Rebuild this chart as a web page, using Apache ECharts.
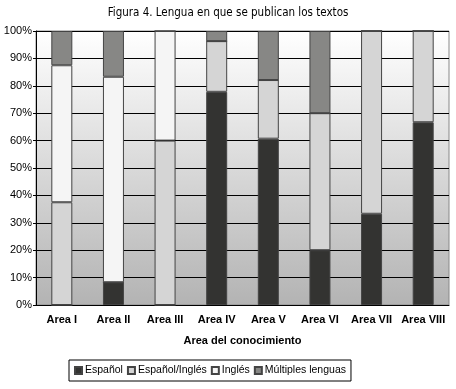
<!DOCTYPE html>
<html>
<head>
<meta charset="utf-8">
<script src="https://cdn.jsdelivr.net/npm/echarts@6/dist/echarts.min.js"></script>
<style>
  html, body { margin: 0; padding: 0; background: #fff; }
  #chart { width: 456px; height: 389px; }
</style>
</head>
<body>
<div id="chart"></div>
<script>
var areas = ['Area I', 'Area II', 'Area III', 'Area IV', 'Area V', 'Area VI', 'Area VII', 'Area VIII'];
var espanol = [0, 8.3, 0, 77.8, 60.7, 20, 33.3, 66.7];
var espIngles = [37.5, 0, 60, 18.5, 21.4, 50, 66.7, 33.3];
var ingles = [50, 75, 40, 0, 0, 0, 0, 0];
var multiples = [12.5, 16.7, 0, 3.7, 17.9, 30, 0, 0];

var myChart = echarts.init(document.getElementById('chart'));

function bar(name, data, color) {
    return {
        name: name,
        type: 'bar',
        stack: 'total',
        barWidth: 21,
        data: data,
        itemStyle: { color: color, borderColor: '#444', borderWidth: 1 }
    };
}

var option = {
    backgroundColor: '#fff',
    animation: false,
    textStyle: { fontFamily: 'Liberation Sans, Arial, sans-serif' },
    title: {
        text: 'Figura 4. Lengua en que se publican los textos',
        left: 'center',
        top: 2,
        textStyle: {
            fontFamily: 'DejaVu Sans Condensed, sans-serif',
            fontSize: 11.5,
            fontWeight: 'normal',
            color: '#000'
        }
    },
    grid: {
        left: 36, right: 7, top: 31, bottom: 84,
        show: true,
        borderColor: '#888',
        borderWidth: 1,
        backgroundColor: new echarts.graphic.LinearGradient(0, 0, 0, 1, [
            { offset: 0, color: '#ffffff' },
            { offset: 1, color: '#b3b3b3' }
        ])
    },
    legend: {
        left: 69,
        top: 360,
        itemWidth: 7,
        itemHeight: 7,
        itemGap: 4,
        icon: 'rect',
        padding: [5, 5],
        borderColor: '#000',
        borderWidth: 1,
        backgroundColor: '#fff',
        textStyle: { fontSize: 10.5, color: '#000', padding: [0, 0, 0, -2] }
    },
    xAxis: {
        type: 'category',
        data: areas,
        name: 'Area del conocimiento',
        nameLocation: 'middle',
        nameGap: 30,
        nameTextStyle: { fontSize: 11, fontWeight: 'bold', color: '#000' },
        axisLine: { lineStyle: { color: '#000' } },
        axisTick: { length: 3, lineStyle: { color: '#000' } },
        axisLabel: { fontSize: 11, fontWeight: 'bold', color: '#000', margin: 9, interval: 0 }
    },
    yAxis: {
        type: 'value',
        min: 0,
        max: 100,
        interval: 10,
        axisLine: { show: true, lineStyle: { color: '#000' } },
        axisTick: { show: true, length: 3, lineStyle: { color: '#000' } },
        axisLabel: { fontSize: 11, color: '#000', margin: 4, formatter: '{value}%' },
        splitLine: { lineStyle: { color: '#000', width: 1 } }
    },
    series: [
        bar('Español', espanol, '#333331'),
        bar('Español/Inglés', espIngles, '#d5d5d5'),
        bar('Inglés', ingles, '#f5f5f5'),
        bar('Múltiples lenguas', multiples, '#878785')
    ]
};
myChart.setOption(option);
</script>
</body>
</html>
